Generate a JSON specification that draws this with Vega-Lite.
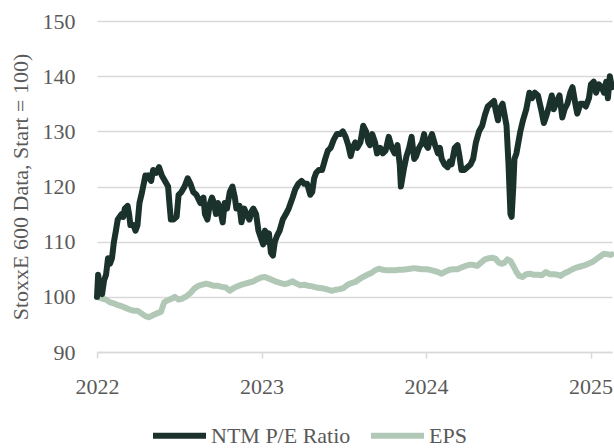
{
"$schema": "https://vega.github.io/schema/vega-lite/v6.json",
"width": 515, "height": 331,
"autosize": "none",
"padding": {"left": 97, "top": 21, "right": 2, "bottom": 96},
"background": "white",
"datasets": {
"eps": [[2022.000,100],[2022.031,99.7],[2022.055,99.5],[2022.079,99],[2022.103,98.8],[2022.126,98.5],[2022.150,98.3],[2022.174,98],[2022.198,97.7],[2022.222,97.5],[2022.246,97.5],[2022.270,97],[2022.294,96.5],[2022.317,96.3],[2022.341,96.7],[2022.365,97],[2022.389,97.3],[2022.408,99],[2022.425,99.3],[2022.449,99.6],[2022.473,100],[2022.496,99.5],[2022.520,99.7],[2022.544,100.1],[2022.568,100.7],[2022.592,101.5],[2022.616,102],[2022.640,102.2],[2022.663,102.4],[2022.687,102.2],[2022.711,102],[2022.735,102],[2022.759,101.8],[2022.783,101.7],[2022.807,101.1],[2022.831,101.6],[2022.854,101.9],[2022.878,102.2],[2022.902,102.4],[2022.926,102.6],[2022.950,102.8],[2022.974,103.2],[2022.998,103.5],[2023.021,103.6],[2023.045,103.3],[2023.069,103],[2023.093,102.7],[2023.117,102.5],[2023.141,102.3],[2023.165,102.5],[2023.189,102.8],[2023.212,102.4],[2023.236,102.1],[2023.260,102.2],[2023.284,102],[2023.308,101.9],[2023.332,101.7],[2023.356,101.6],[2023.379,101.5],[2023.403,101.3],[2023.427,101.1],[2023.451,101.3],[2023.475,101.4],[2023.499,101.6],[2023.523,102.2],[2023.547,102.5],[2023.570,102.7],[2023.594,103.2],[2023.618,103.6],[2023.642,104],[2023.666,104.3],[2023.690,104.8],[2023.714,105.1],[2023.737,104.9],[2023.761,104.8],[2023.785,104.8],[2023.809,104.8],[2023.833,104.9],[2023.857,104.9],[2023.881,105],[2023.905,105.1],[2023.928,105.2],[2023.952,105.1],[2023.976,105],[2024.000,105],[2024.024,104.9],[2024.048,104.7],[2024.072,104.5],[2024.095,104.2],[2024.119,104.6],[2024.143,104.9],[2024.167,105],[2024.191,105],[2024.215,105.3],[2024.239,105.6],[2024.263,105.8],[2024.286,105.8],[2024.310,105.6],[2024.334,106.2],[2024.358,106.8],[2024.382,107],[2024.406,107.1],[2024.422,106.9],[2024.442,106.2],[2024.460,106],[2024.477,106.2],[2024.494,106.8],[2024.513,106.5],[2024.532,105.5],[2024.549,104.5],[2024.566,103.8],[2024.585,103.6],[2024.609,104.1],[2024.632,104.2],[2024.656,104],[2024.680,104],[2024.704,103.9],[2024.728,104.5],[2024.752,104.1],[2024.776,104.1],[2024.800,104],[2024.819,103.8],[2024.842,104.3],[2024.866,104.6],[2024.890,105],[2024.914,105.3],[2024.938,105.5],[2024.962,105.7],[2024.986,106],[2025.010,106.3],[2025.033,106.8],[2025.057,107.3],[2025.081,107.8],[2025.105,107.7],[2025.122,107.6],[2025.129,107.7]],
"pe": [[2022.000,100],[2022.007,104],[2022.019,101],[2022.031,100.5],[2022.043,103],[2022.055,104],[2022.067,107],[2022.079,106],[2022.091,107],[2022.103,110],[2022.115,112],[2022.126,114],[2022.138,114.5],[2022.150,115],[2022.160,114.5],[2022.169,116],[2022.186,116.5],[2022.195,115],[2022.203,113],[2022.222,113],[2022.234,112],[2022.246,113],[2022.258,117],[2022.274,119],[2022.294,122],[2022.305,121.5],[2022.313,122],[2022.329,121],[2022.341,123],[2022.360,122.5],[2022.377,123.5],[2022.394,122],[2022.413,121],[2022.432,120],[2022.440,117],[2022.449,114],[2022.465,114],[2022.484,114.5],[2022.496,118.5],[2022.513,119],[2022.532,120],[2022.551,121.5],[2022.568,120.5],[2022.585,119],[2022.604,118.5],[2022.628,117],[2022.647,118],[2022.656,115],[2022.671,114],[2022.687,117],[2022.699,118],[2022.711,117],[2022.723,115],[2022.735,117],[2022.747,116],[2022.764,113.5],[2022.776,117],[2022.790,116],[2022.807,119],[2022.823,120],[2022.838,118],[2022.847,116],[2022.866,116.5],[2022.878,113.5],[2022.895,116],[2022.909,115],[2022.926,114],[2022.940,115.5],[2022.950,116],[2022.967,115],[2022.981,112],[2022.998,110.5],[2023.010,109.5],[2023.021,112],[2023.033,110],[2023.045,111.5],[2023.057,108],[2023.069,107.5],[2023.081,110],[2023.093,111],[2023.110,112],[2023.129,114],[2023.148,115],[2023.165,116],[2023.177,117],[2023.189,118],[2023.205,119.5],[2023.224,120.5],[2023.243,121],[2023.260,120.5],[2023.277,120.5],[2023.296,118.5],[2023.308,119],[2023.320,121.5],[2023.332,122.5],[2023.348,123],[2023.368,123],[2023.387,125],[2023.403,126.5],[2023.420,127],[2023.439,128.5],[2023.458,129.5],[2023.477,129.5],[2023.494,130],[2023.511,129],[2023.527,127.5],[2023.542,125.5],[2023.554,127],[2023.570,128],[2023.582,127],[2023.601,128],[2023.618,131],[2023.635,130],[2023.649,128],[2023.659,127.5],[2023.673,129.5],[2023.690,128],[2023.702,126],[2023.721,127],[2023.737,126],[2023.754,126.5],[2023.773,129],[2023.792,127],[2023.809,126],[2023.826,127.5],[2023.840,124],[2023.847,120],[2023.864,123],[2023.881,125.5],[2023.897,127],[2023.912,129],[2023.928,125],[2023.940,125.5],[2023.957,127],[2023.976,128],[2023.988,129.5],[2024.000,127.5],[2024.012,127],[2024.024,128.5],[2024.036,129.5],[2024.055,127.5],[2024.072,126],[2024.084,127],[2024.095,125],[2024.112,124],[2024.131,123.5],[2024.143,124.5],[2024.155,124],[2024.174,127],[2024.191,127.5],[2024.203,125.5],[2024.215,123],[2024.232,123],[2024.251,123.5],[2024.270,124],[2024.286,125],[2024.303,128],[2024.322,130],[2024.341,131],[2024.358,133],[2024.375,134.5],[2024.394,135],[2024.413,135.5],[2024.422,134],[2024.437,132],[2024.446,134],[2024.465,135],[2024.477,133],[2024.489,131],[2024.501,124],[2024.513,115],[2024.520,114.5],[2024.530,120],[2024.537,125],[2024.549,126],[2024.561,128],[2024.573,130],[2024.589,132],[2024.609,134],[2024.628,137],[2024.644,136],[2024.661,137],[2024.680,136.5],[2024.699,134],[2024.716,131.5],[2024.733,133],[2024.747,134.5],[2024.764,136.5],[2024.776,134],[2024.795,135.5],[2024.811,136.5],[2024.828,132.5],[2024.842,134],[2024.859,135],[2024.876,137],[2024.890,138],[2024.907,135],[2024.919,133.2],[2024.938,135],[2024.955,135],[2024.971,134.5],[2024.990,136],[2025.002,138.5],[2025.019,139],[2025.033,137],[2025.050,138.5],[2025.067,138],[2025.081,137],[2025.095,139],[2025.105,136],[2025.117,140],[2025.129,138]]
},
"layer": [
{
"data": {"name": "eps"},
"transform": [{"calculate": "'EPS'", "as": "series"}],
"mark": {"type": "line", "strokeWidth": 6, "strokeJoin": "round", "strokeCap": "round"},
"encoding": {
"x": {"field": "0", "type": "quantitative"},
"y": {"field": "1", "type": "quantitative"},
"color": {"field": "series", "type": "nominal"}
}
},
{
"data": {"name": "pe"},
"transform": [{"calculate": "'NTM P/E Ratio'", "as": "series"}],
"mark": {"type": "line", "strokeWidth": 6, "strokeJoin": "round", "strokeCap": "round"},
"encoding": {
"x": {"field": "0", "type": "quantitative"},
"y": {"field": "1", "type": "quantitative"},
"color": {"field": "series", "type": "nominal"}
}
}
],
"encoding": {
"x": {"type": "quantitative", "scale": {"domain": [2022, 2025.13], "nice": false, "zero": false},
"axis": {"values": [2022, 2023, 2024, 2025], "format": "d", "grid": false, "title": null, "domainColor": "#d9d9d9", "domainWidth": 1.5, "tickColor": "#d9d9d9", "tickWidth": 1.5, "tickSize": 6, "labelPadding": 18, "labelFont": "Liberation Serif", "labelFontSize": 22, "labelColor": "#595959", "labelOverlap": false, "labelFlush": false}},
"y": {"type": "quantitative", "scale": {"domain": [90, 150], "nice": false, "zero": false},
"axis": {"values": [90, 100, 110, 120, 130, 140, 150], "grid": true, "gridColor": "#d9d9d9", "gridWidth": 1.5, "domain": false, "ticks": false, "labelPadding": 22, "labelFont": "Liberation Serif", "labelFontSize": 22, "labelColor": "#595959", "title": "StoxxE 600 Data, Start = 100)", "titleFont": "Liberation Serif", "titleFontSize": 22, "titleFontWeight": "normal", "titleColor": "#595959", "titleX": -77, "titleY": 165.5, "titleAngle": -90, "titleAlign": "center", "titleBaseline": "middle"}},
"color": {"type": "nominal", "scale": {"domain": ["NTM P/E Ratio", "EPS"], "range": ["#1b312c", "#b0c8b5"]},
"legend": {"title": null, "orient": "none", "legendX": 53, "legendY": 385, "direction": "horizontal", "symbolType": "stroke", "symbolStrokeWidth": 6, "symbolSize": 2809, "labelFont": "Liberation Serif", "labelFontSize": 22, "labelColor": "#595959", "labelOffset": 2, "columnPadding": 8, "symbolOpacity": 1}}
},
"config": {"view": {"stroke": null}}
}
